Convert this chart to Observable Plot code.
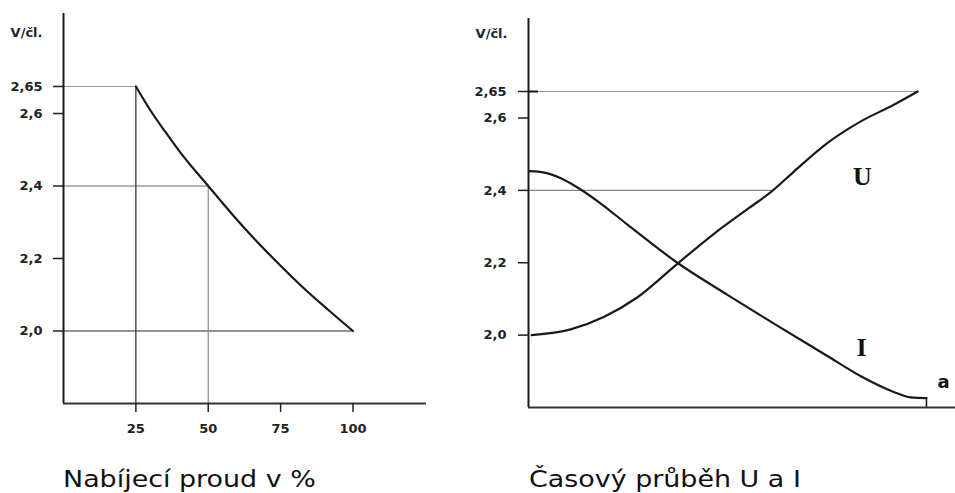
<!DOCTYPE html>
<html>
<head>
<meta charset="utf-8">
<script src="https://cdn.jsdelivr.net/npm/d3@7"></script>
<script src="https://cdn.jsdelivr.net/npm/@observablehq/plot@0.6"></script>
<style>
  body { margin: 0; background: #fff; width: 955px; height: 493px; position: relative; overflow: hidden; }
  #left { position: absolute; left: 0; top: 0; }
  #right { position: absolute; left: 460px; top: 0; }
  .title { position: absolute; top: 468px; font-family: "DejaVu Sans", sans-serif; font-size: 23px; line-height: 23px;
           color: #111; transform: scaleX(1.17); transform-origin: 0 0; white-space: nowrap; }
</style>
</head>
<body>
<div id="left"></div>
<div id="right"></div>
<div class="title" id="t1" style="left:63px"></div>
<div class="title" id="t2" style="left:529px"></div>
<script>
// ---- data ----
const yUnitLabel = "V/čl.";
const yTicks = [2.0, 2.2, 2.4, 2.6, 2.65];
const yTickLabels = ["2,0", "2,2", "2,4", "2,6", "2,65"];
const xTicks = [25, 50, 75, 100];
const xTickLabels = ["25", "50", "75", "100"];
const titleLeft = "Nabíjecí proud v %";
const titleRight = "Časový průběh U a I";

// left chart: voltage per cell vs charging current in %
const currentPct = [25, 30.0, 35.2, 40.4, 50, 58.7, 66.3, 75, 81.8, 91.2, 100];
const cellVoltage = [2.65, 2.606, 2.549, 2.492, 2.4, 2.318, 2.251, 2.18, 2.127, 2.06, 2.0];

// right chart: time course of U and I
const timeU = [0.8, 10.6, 18.9, 27.3, 37.4, 46.6, 55.0, 61.2, 66.7, 75.0, 83.4, 91.8, 97.8];
const valueU = [2.0, 2.016, 2.05, 2.104, 2.197, 2.28, 2.348, 2.398, 2.452, 2.53, 2.59, 2.625, 2.65];
const timeI = [0.3, 4, 8, 12, 18, 24.8, 37.4, 49.9, 62.4, 75.0, 83.4, 91.8, 96, 100];
const valueI = [2.453, 2.449, 2.434, 2.41, 2.365, 2.306, 2.2, 2.112, 2.027, 1.943, 1.887, 1.843, 1.828, 1.826];
const curveLabels = ["U", "I"];
const curveLabelTime = [83.9, 83.7];
const curveLabelValue = [2.438, 1.964];
const endLabel = "a";
const endTime = 100;

const leftCurve = currentPct.map((x, i) => ({x, y: cellVoltage[i]}));
const uCurve = timeU.map((x, i) => ({x, y: valueU[i]}));
const iCurve = timeI.map((x, i) => ({x, y: valueI[i]}));
const fmtY = d => yTickLabels[yTicks.indexOf(d)];
const fmtX = d => xTickLabels[xTicks.indexOf(d)];

const baseStyle = {fontFamily: "'DejaVu Sans', sans-serif", fontWeight: "bold", fontSize: "13px",
                   color: "#222", background: "transparent", overflow: "visible"};
const ink = "#1a1a1a";
const tickFont = 13;

// ---- left chart ----
const left = Plot.plot({
  width: 460, height: 450,
  marginLeft: 63, marginRight: 34, marginTop: 13, marginBottom: 47,
  style: baseStyle,
  x: {domain: [0, 125.4]},
  y: {type: "linear", domain: [1.8, 2.6, 2.65, 2.85], range: [403, 113, 86, 13]},
  marks: [
    Plot.ruleY([2.65], {x1: 0, x2: 25, stroke: "#9a9a9a", strokeWidth: 1.2}),
    Plot.ruleY([2.4], {x1: 0, x2: 50, stroke: "#6a6a6a", strokeWidth: 1.2}),
    Plot.ruleY([2.0], {x1: 0, x2: 100, stroke: "#2a2a2a", strokeWidth: 1.2}),
    Plot.ruleX([25], {y1: 1.8, y2: 2.65, stroke: "#2a2a2a", strokeWidth: 1.2}),
    Plot.ruleX([50], {y1: 1.8, y2: 2.4, stroke: "#8a8a8a", strokeWidth: 1.2}),
    Plot.line(leftCurve, {x: "x", y: "y", curve: "monotone-x", stroke: ink, strokeWidth: 2.2}),
    Plot.ruleX([0], {y1: 1.8, y2: 2.85, stroke: ink, strokeWidth: 2}),
    Plot.ruleY([1.8], {x1: 0, x2: 125.4, stroke: "#333", strokeWidth: 2}),
    Plot.axisY({ticks: yTicks, tickFormat: fmtY, tickSize: 10, tickPadding: 11, strokeWidth: 1.5,
      fontSize: tickFont, fontWeight: "bold", label: null}),
    Plot.axisX({ticks: xTicks, tickFormat: fmtX, tickSize: 9, tickPadding: 11, strokeWidth: 1.5,
      fontSize: tickFont, fontWeight: "bold", label: null}),
    Plot.text([yUnitLabel], {x: 0, y: 2.798, text: d => d, textAnchor: "end", dx: -21,
      fontSize: tickFont, fontWeight: "bold"})
  ]
});
document.getElementById("left").appendChild(left);

// ---- right chart ----
const right = Plot.plot({
  width: 495, height: 450,
  marginLeft: 68, marginRight: 0, marginTop: 18, marginBottom: 43,
  style: baseStyle,
  x: {domain: [0, 107.3], axis: null},
  y: {type: "linear", domain: [1.8, 2.6, 2.65, 2.85], range: [407, 117.5, 91, 18]},
  marks: [
    Plot.ruleY([2.65], {x1: 0, x2: timeU[timeU.length - 1], stroke: "#9a9a9a", strokeWidth: 1.2}),
    Plot.ruleY([2.4], {x1: 0, x2: timeU[7], stroke: "#8a8a8a", strokeWidth: 1.2}),
    Plot.line(uCurve, {x: "x", y: "y", curve: "monotone-x", stroke: ink, strokeWidth: 2.2}),
    Plot.line(iCurve, {x: "x", y: "y", curve: "monotone-x", stroke: ink, strokeWidth: 2.2}),
    Plot.ruleX([endTime], {y1: 1.8, y2: valueI[valueI.length - 1], stroke: ink, strokeWidth: 1.6}),
    Plot.ruleX([0], {y1: 1.8, y2: 2.85, stroke: ink, strokeWidth: 2}),
    Plot.ruleY([1.8], {x1: 0, x2: 107.3, stroke: "#333", strokeWidth: 2}),
    Plot.ruleY([2.65], {x1: 0, x2: 2.5, stroke: ink, strokeWidth: 2}),
    Plot.axisY({ticks: yTicks, tickFormat: fmtY, tickSize: 10, tickPadding: 12, strokeWidth: 1.5,
      fontSize: tickFont, fontWeight: "bold", label: null}),
    Plot.text([yUnitLabel], {x: 0, y: 2.809, text: d => d, textAnchor: "end", dx: -21,
      fontSize: tickFont, fontWeight: "bold"}),
    Plot.text(curveLabels, {x: (d, i) => curveLabelTime[i], y: (d, i) => curveLabelValue[i], text: d => d,
      fontFamily: "'Liberation Serif', serif", fontWeight: "bold", fontSize: 26, fill: "#111"}),
    Plot.text([endLabel], {x: 104.3, y: 1.869, text: d => d, fontSize: 18, fontWeight: "bold", fill: "#111"})
  ]
});
document.getElementById("right").appendChild(right);

document.getElementById("t1").textContent = titleLeft;
document.getElementById("t2").textContent = titleRight;
</script>
</body>
</html>
